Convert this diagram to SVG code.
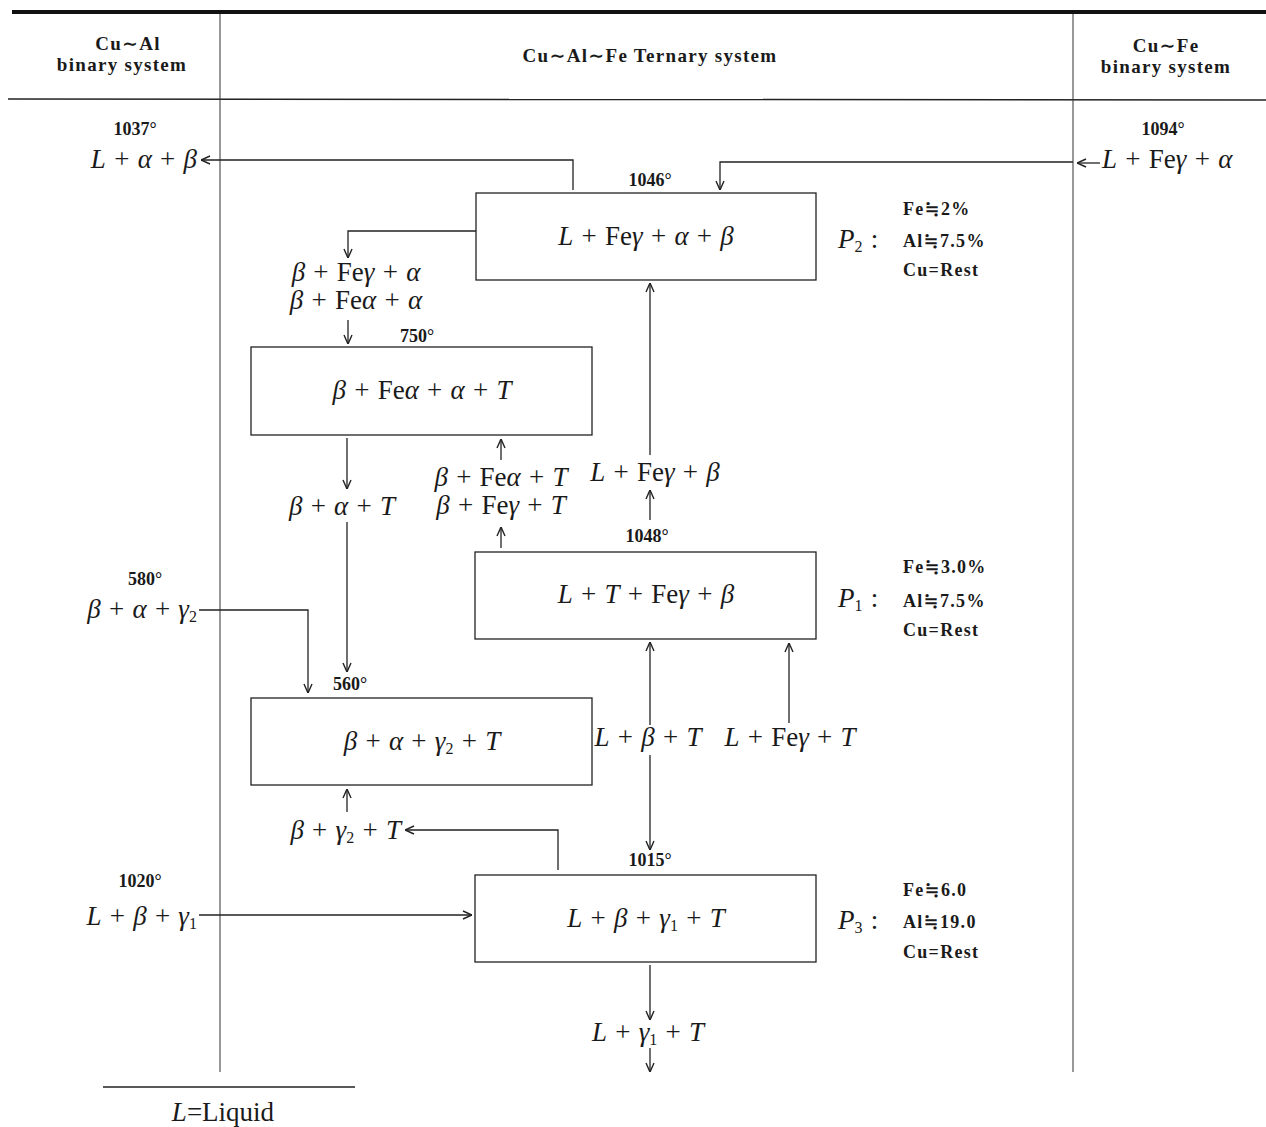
<svg xmlns="http://www.w3.org/2000/svg" width="1266" height="1127" viewBox="0 0 1266 1127">
<style>
text{font-family:"Liberation Serif","DejaVu Serif",serif;fill:#1a1a1a}
.m{font-size:27px;word-spacing:1.5px}
.i{font-style:italic}
.s{font-size:16px}
.deg{font-size:18px;font-weight:bold}
.cmp{font-size:18px;font-weight:bold;letter-spacing:1.3px}
.hdr{font-size:19px;font-weight:bold;letter-spacing:1.3px}
.ln{stroke:#222;stroke-width:1.3;fill:none}
.box{stroke:#222;stroke-width:1.3;fill:none}
</style>
<defs>
<marker id="a" viewBox="0 0 10 10" refX="10" refY="5" markerWidth="10" markerHeight="10" markerUnits="userSpaceOnUse" orient="auto">
<path d="M1,1 L10,5 L1,9" fill="none" stroke="#222" stroke-width="1.4"/>
</marker>
</defs>
<g id="frame">
<line x1="12" y1="12" x2="1266" y2="12" stroke="#111" stroke-width="4"/>
<line x1="8" y1="99" x2="1266" y2="100" stroke="#222" stroke-width="1.5"/>
<line x1="220" y1="14" x2="220" y2="1072" stroke="#333" stroke-width="1"/>
<line x1="1073" y1="14" x2="1073" y2="1072" stroke="#333" stroke-width="1"/>
<line x1="103" y1="1087" x2="355" y2="1087" stroke="#222" stroke-width="1.3"/>
<text class="hdr" x="128" y="50" text-anchor="middle">Cu∼Al</text>
<text class="hdr" x="122" y="71" text-anchor="middle">binary  system</text>
<text class="hdr" x="650" y="62" text-anchor="middle">Cu∼Al∼Fe  Ternary  system</text>
<text class="hdr" x="1166" y="52" text-anchor="middle">Cu∼Fe</text>
<text class="hdr" x="1166" y="73" text-anchor="middle">binary  system</text>
<text class="m" x="223" y="1121" text-anchor="middle"><tspan class="i">L</tspan>=Liquid</text>
</g>
<g id="connectors">
<path class="ln" d="M573,190 V160 H201" marker-end="url(#a)"/>
<path class="ln" d="M1100,163 H1077" marker-end="url(#a)"/>
<path class="ln" d="M1073,162 H720 V190" marker-end="url(#a)"/>
<path class="ln" d="M476,231 H348 V258" marker-end="url(#a)"/>
<path class="ln" d="M348,320 V344" marker-end="url(#a)"/>
<path class="ln" d="M347,438 V489" marker-end="url(#a)"/>
<path class="ln" d="M347,522 V672" marker-end="url(#a)"/>
<path class="ln" d="M501,460 V439" marker-end="url(#a)"/>
<path class="ln" d="M501,548 V527" marker-end="url(#a)"/>
<path class="ln" d="M650,455 V283" marker-end="url(#a)"/>
<path class="ln" d="M650,520 V490" marker-end="url(#a)"/>
<path class="ln" d="M650,725 V642" marker-end="url(#a)"/>
<path class="ln" d="M650,755 V850" marker-end="url(#a)"/>
<path class="ln" d="M789,723 V643" marker-end="url(#a)"/>
<path class="ln" d="M199,610 H308 V693" marker-end="url(#a)"/>
<path class="ln" d="M558,870 V830 H405" marker-end="url(#a)"/>
<path class="ln" d="M347,812 V789" marker-end="url(#a)"/>
<path class="ln" d="M199,915 H472" marker-end="url(#a)"/>
<path class="ln" d="M650,965 V1020" marker-end="url(#a)"/>
<path class="ln" d="M650,1048 V1072" marker-end="url(#a)"/>
</g>
<g id="cual-1037">
<text class="deg" x="135" y="135" text-anchor="middle">1037°</text>
<text class="m" x="197" y="168" text-anchor="end"><tspan class="i">L</tspan> + <tspan class="i">α</tspan> + <tspan class="i">β</tspan></text>
</g>
<g id="cufe-1094">
<text class="deg" x="1163" y="135" text-anchor="middle">1094°</text>
<text class="m" x="1102" y="168"><tspan class="i">L</tspan> + Fe<tspan class="i">γ</tspan> + <tspan class="i">α</tspan></text>
</g>
<g id="p2">
<text class="deg" x="650" y="186" text-anchor="middle">1046°</text>
<rect class="box" x="476" y="193" width="340" height="87"/>
<text class="m" x="646" y="245" text-anchor="middle"><tspan class="i">L</tspan> + Fe<tspan class="i">γ</tspan> + <tspan class="i">α</tspan> + <tspan class="i">β</tspan></text>
<text class="m" x="838" y="248"><tspan class="i">P</tspan><tspan class="s" dy="4">2</tspan><tspan dy="-4"> :</tspan></text>
<text class="cmp" x="903" y="215">Fe≒2%</text>
<text class="cmp" x="903" y="247">Al≒7.5%</text>
<text class="cmp" x="903" y="276">Cu=Rest</text>
</g>
<g id="beta-fe-alpha">
<text class="m" x="356" y="281" text-anchor="middle"><tspan class="i">β</tspan> + Fe<tspan class="i">γ</tspan> + <tspan class="i">α</tspan></text>
<text class="m" x="356" y="309" text-anchor="middle"><tspan class="i">β</tspan> + Fe<tspan class="i">α</tspan> + <tspan class="i">α</tspan></text>
</g>
<g id="box750">
<text class="deg" x="417" y="342" text-anchor="middle">750°</text>
<rect class="box" x="251" y="347" width="341" height="88"/>
<text class="m" x="422" y="399" text-anchor="middle"><tspan class="i">β</tspan> + Fe<tspan class="i">α</tspan> + <tspan class="i">α</tspan> + <tspan class="i">T</tspan></text>
</g>
<g id="b-a-t">
<text class="m" x="342" y="515" text-anchor="middle"><tspan class="i">β</tspan> + <tspan class="i">α</tspan> + <tspan class="i">T</tspan></text>
</g>
<g id="b-fe-t">
<text class="m" x="501" y="486" text-anchor="middle"><tspan class="i">β</tspan> + Fe<tspan class="i">α</tspan> + <tspan class="i">T</tspan></text>
<text class="m" x="501" y="514" text-anchor="middle"><tspan class="i">β</tspan> + Fe<tspan class="i">γ</tspan> + <tspan class="i">T</tspan></text>
</g>
<g id="l-fe-b">
<text class="m" x="655" y="481" text-anchor="middle"><tspan class="i">L</tspan> + Fe<tspan class="i">γ</tspan> + <tspan class="i">β</tspan></text>
</g>
<g id="p1">
<text class="deg" x="647" y="542" text-anchor="middle">1048°</text>
<rect class="box" x="475" y="552" width="341" height="87"/>
<text class="m" x="646" y="603" text-anchor="middle"><tspan class="i">L</tspan> + <tspan class="i">T</tspan> + Fe<tspan class="i">γ</tspan> + <tspan class="i">β</tspan></text>
<text class="m" x="838" y="607"><tspan class="i">P</tspan><tspan class="s" dy="4">1</tspan><tspan dy="-4"> :</tspan></text>
<text class="cmp" x="903" y="573">Fe≒3.0%</text>
<text class="cmp" x="903" y="607">Al≒7.5%</text>
<text class="cmp" x="903" y="636">Cu=Rest</text>
</g>
<g id="cual-580">
<text class="deg" x="145" y="585" text-anchor="middle">580°</text>
<text class="m" x="197" y="618" text-anchor="end"><tspan class="i">β</tspan> + <tspan class="i">α</tspan> + <tspan class="i">γ</tspan><tspan class="s" dy="4">2</tspan></text>
</g>
<g id="box560">
<text class="deg" x="350" y="690" text-anchor="middle">560°</text>
<rect class="box" x="251" y="698" width="341" height="87"/>
<text class="m" x="422" y="750" text-anchor="middle"><tspan class="i">β</tspan> + <tspan class="i">α</tspan> + <tspan class="i">γ</tspan><tspan class="s" dy="4">2</tspan><tspan dy="-4"> + </tspan><tspan class="i">T</tspan></text>
</g>
<g id="l-b-t">
<text class="m" x="648" y="746" text-anchor="middle"><tspan class="i">L</tspan> + <tspan class="i">β</tspan> + <tspan class="i">T</tspan></text>
</g>
<g id="l-fe-t">
<text class="m" x="790" y="746" text-anchor="middle"><tspan class="i">L</tspan> + Fe<tspan class="i">γ</tspan> + <tspan class="i">T</tspan></text>
</g>
<g id="b-g2-t">
<text class="m" x="401" y="839" text-anchor="end"><tspan class="i">β</tspan> + <tspan class="i">γ</tspan><tspan class="s" dy="4">2</tspan><tspan dy="-4"> + </tspan><tspan class="i">T</tspan></text>
</g>
<g id="cual-1020">
<text class="deg" x="140" y="887" text-anchor="middle">1020°</text>
<text class="m" x="197" y="925" text-anchor="end"><tspan class="i">L</tspan> + <tspan class="i">β</tspan> + <tspan class="i">γ</tspan><tspan class="s" dy="4">1</tspan></text>
</g>
<g id="p3">
<text class="deg" x="650" y="866" text-anchor="middle">1015°</text>
<rect class="box" x="475" y="875" width="341" height="87"/>
<text class="m" x="646" y="927" text-anchor="middle"><tspan class="i">L</tspan> + <tspan class="i">β</tspan> + <tspan class="i">γ</tspan><tspan class="s" dy="4">1</tspan><tspan dy="-4"> + </tspan><tspan class="i">T</tspan></text>
<text class="m" x="838" y="929"><tspan class="i">P</tspan><tspan class="s" dy="4">3</tspan><tspan dy="-4"> :</tspan></text>
<text class="cmp" x="903" y="896">Fe≒6.0</text>
<text class="cmp" x="903" y="928">Al≒19.0</text>
<text class="cmp" x="903" y="958">Cu=Rest</text>
</g>
<g id="l-g1-t">
<text class="m" x="648" y="1041" text-anchor="middle"><tspan class="i">L</tspan> + <tspan class="i">γ</tspan><tspan class="s" dy="4">1</tspan><tspan dy="-4"> + </tspan><tspan class="i">T</tspan></text>
</g>
</svg>
